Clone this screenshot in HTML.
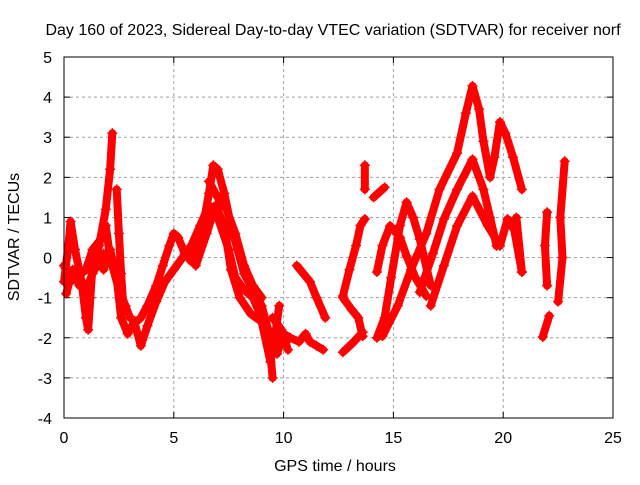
<!DOCTYPE html>
<html><head><meta charset="utf-8"><style>
body{margin:0;background:#fff;}
text{font-family:"Liberation Sans",sans-serif;font-size:16px;fill:#000;}
</style></head><body>
<svg id="chart" width="640" height="480" viewBox="0 0 640 480">
<rect width="640" height="480" fill="#fff"/>
<text x="333" y="35" text-anchor="middle">Day 160 of 2023, Sidereal Day-to-day VTEC variation (SDTVAR) for receiver norf</text>
<text x="335" y="471" text-anchor="middle">GPS time / hours</text>
<text x="0" y="0" transform="translate(19,237) rotate(-90)" text-anchor="middle">SDTVAR / TECUs</text>
<g id="grid"></g>
<g id="ticks"></g>
<g id="series"></g>
<rect x="64" y="57" width="549" height="361" fill="none" stroke="#000" stroke-width="1"/>
</svg>
<script>
const xTicks=[0,5,10,15,20,25];
const yTicks=[-4,-3,-2,-1,0,1,2,3,4,5];
const trackA=[[0,-0.6],[0.2,0.3],[0.3,0.9],[0.5,0.2],[0.8,-0.6],[1.0,-1.5],[1.1,-1.8],[1.2,-1.0],[1.3,-0.2],[1.6,0.3],[1.9,1.2],[2.1,2.2],[2.2,3.1]];
const trackB=[[0,-0.2],[0.3,-0.6],[0.6,-0.5],[1.0,-0.3],[1.3,0.2],[1.6,0.4],[1.9,0.8],[2.1,0.0],[2.5,-0.8],[2.8,-1.2],[3.0,-1.5],[3.3,-1.6],[3.5,-1.5],[3.8,-1.2],[4.2,-0.7],[4.5,-0.2],[4.8,0.3],[5.0,0.6],[5.2,0.5],[5.5,0.1],[5.8,-0.1],[6.0,0.2],[6.3,0.7],[6.6,1.6],[6.8,2.3],[7.0,2.2],[7.3,1.6],[7.6,0.8],[7.9,0.2],[8.2,-0.4],[8.6,-0.8],[9.0,-1.2],[9.3,-1.8],[9.5,-3.0]];
const trackC=[[1.8,-0.3],[2.1,0.2],[2.4,-0.5],[2.6,-1.5],[2.9,-1.9],[3.2,-1.6],[3.5,-2.2],[3.8,-1.7],[4.2,-1.1],[4.6,-0.6],[5.0,-0.3],[5.4,0.0],[5.8,0.3],[6.2,0.8],[6.6,1.3],[7.0,1.0],[7.5,0.2],[7.8,-0.5],[8.2,-0.8],[8.6,-1.0],[9.0,-1.5],[9.4,-2.2],[9.7,-2.4],[10.0,-1.9],[10.3,-2.0],[10.7,-2.1],[11.0,-1.9],[11.2,-2.1],[11.5,-2.2],[11.8,-2.3]];
const trackD=[[6.0,-0.2],[6.5,0.6],[6.9,1.3],[7.3,0.8],[7.6,-0.3],[8.0,-1.0],[8.5,-1.4],[9.0,-1.6],[9.4,-2.6],[9.6,-2.0],[9.8,-1.2]];
const trackD2=[[6.6,1.9],[7.0,1.5],[7.4,1.2],[7.8,0.6],[8.2,-0.2],[8.6,-0.7],[9.0,-1.0]];
const trackA2=[[0.1,-0.9],[0.4,-0.3],[0.7,-0.7],[1.0,-0.8],[1.3,-0.4],[1.6,-0.1],[1.8,0.1]];
const trackA3=[[2.4,1.7],[2.5,0.6],[2.6,-0.4],[2.7,-1.2]];
const trackD3=[[9.5,-1.5],[9.9,-1.8],[10.2,-2.3]];
const trackE=[[10.6,-0.2],[10.9,-0.4],[11.2,-0.6],[11.5,-1.0],[11.9,-1.5]];
const trackF=[[12.7,-0.96],[13.0,-0.3],[13.3,0.3],[13.5,0.8],[13.7,0.96]];
const trackG=[[12.7,-2.36],[13.2,-2.1],[13.6,-1.86]];
const trackH=[[12.7,-1.0],[13.1,-1.3],[13.4,-1.5],[13.6,-1.96]];
const trackI=[[13.7,2.3],[13.7,1.7]];
const trackJ=[[14.1,1.5],[14.6,1.75]];
const trackK=[[14.25,-0.36],[14.5,0.3],[14.85,0.79],[15.3,0.5],[15.6,0.04],[16.0,-0.5],[16.5,-0.96]];
const trackL=[[14.25,-2.0],[14.6,-1.5],[14.9,-0.5],[15.3,0.8],[15.6,1.38],[15.9,1.0],[16.2,0.46],[16.7,-0.7]];
const trackM=[[14.5,-1.96],[15.2,-1.2],[15.8,-0.3],[16.5,0.6],[17.1,1.7],[17.9,2.6],[18.3,3.6],[18.6,4.28],[18.9,3.7],[19.1,2.9],[19.4,2.0],[19.6,2.5],[19.85,3.38],[20.1,3.1],[20.45,2.5],[20.85,1.7]];
const trackN=[[16.2,-0.86],[16.8,0.1],[17.3,0.96],[17.9,1.7],[18.6,2.45],[19.1,1.7],[19.4,1.0],[19.7,0.29]];
const trackO=[[16.7,-1.2],[17.3,-0.2],[17.9,0.79],[18.6,1.53],[19.3,0.79],[19.85,0.29],[20.2,0.96],[20.5,0.7],[20.85,-0.36]];
const trackP=[[20.6,1.0],[20.85,-0.36]];
const trackQ=[[22.0,1.13],[21.9,0.3],[22.0,-0.7]];
const trackR=[[21.8,-1.98],[22.1,-1.45]];
const trackS=[[22.8,2.4],[22.6,1.0],[22.7,0.0],[22.5,-1.1]];
const tracks=[trackA,trackA2,trackA3,trackB,trackC,trackD,trackD2,trackD3,trackE,trackF,trackG,trackH,trackI,trackJ,trackK,trackL,trackM,trackN,trackO,trackP,trackQ,trackR,trackS];
const NS='http://www.w3.org/2000/svg';
const X0=64,X1=613,Y0=418,Y1=57;
function sx(h){return X0+(h-0)/(25-0)*(X1-X0);}
function sy(v){return Y0-(v+4)/(5+4)*(Y0-Y1);}
const grid=document.getElementById('grid'),ticks=document.getElementById('ticks'),series=document.getElementById('series');
function mk(tag,attrs,parent){const e=document.createElementNS(NS,tag);for(const k in attrs)e.setAttribute(k,attrs[k]);parent.appendChild(e);return e;}
xTicks.forEach(t=>{
  const x=sx(t);
  if(t>0&&t<25){const g=mk('line',{x1:x,x2:x,y1:Y1,y2:Y0,stroke:'#a0a0a0','stroke-dasharray':'3,3'},grid);
  
  }
  mk('line',{x1:x,x2:x,y1:Y0,y2:Y0-6,stroke:'#000'},ticks);
  mk('line',{x1:x,x2:x,y1:Y1,y2:Y1+6,stroke:'#000'},ticks);
  const l=mk('text',{x:x,y:Y0+25,'text-anchor':'middle'},ticks);l.textContent=t;
  
  
});
yTicks.forEach(t=>{
  const y=sy(t);
  if(t>-4&&t<5){const g=mk('line',{x1:X0,x2:X1,y1:y,y2:y,stroke:'#a0a0a0','stroke-dasharray':'3,3'},grid);
  
  }
  mk('line',{x1:X0,x2:X0+6,y1:y,y2:y,stroke:'#000'},ticks);
  mk('line',{x1:X1,x2:X1-6,y1:y,y2:y,stroke:'#000'},ticks);
  const l=mk('text',{x:X0-12,y:y+6,'text-anchor':'end'},ticks);l.textContent=t;
  
  
});
tracks.forEach(tr=>{
  const pl=mk('polyline',{points:tr.map(p=>sx(p[0])+','+sy(p[1])).join(' '),fill:'none',stroke:'#ff0000','stroke-width':8,'stroke-linejoin':'round','stroke-linecap':'round'},series);
  
  
  tr.forEach(p=>{
    const x=sx(p[0]),y=sy(p[1]);
    const m=mk('path',{d:`M${x-5},${y}H${x+5}M${x},${y-5}V${y+5}`,stroke:'#ff0000','stroke-width':1.5},series);
    
    
  });
});
</script>
</body></html>
